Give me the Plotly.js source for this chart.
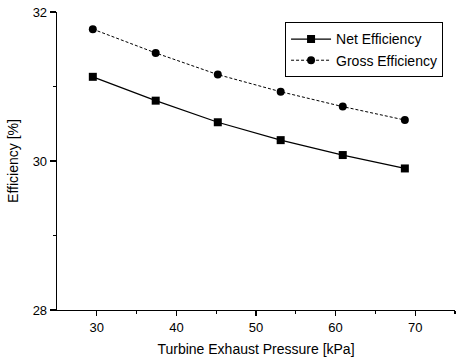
<!DOCTYPE html>
<html><head><meta charset="utf-8">
<script src="https://cdn.plot.ly/plotly-3.0.1.min.js"></script>
<style>html,body{margin:0;padding:0;background:#fff}#chart{width:466px;height:360px}</style>
</head><body><div id="chart"></div>
<script>
const pressure = [29.5, 37.4, 45.2, 53.1, 60.9, 68.7];
const netEff = [31.13, 30.81, 30.52, 30.28, 30.08, 29.90];
const grossEff = [31.77, 31.45, 31.16, 30.93, 30.73, 30.55];
const xTicks = [30, 40, 50, 60, 70];
const yTicks = [28, 30, 32];

const font = {family: 'Liberation Sans, Arial, sans-serif', color: '#000'};
const traces = [
  {x: pressure, y: netEff, name: 'Net Efficiency', type: 'scatter', mode: 'lines+markers',
   line: {color: '#000', width: 1.2}, marker: {symbol: 'square', size: 8, color: '#000'}},
  {x: pressure, y: grossEff, name: 'Gross Efficiency', type: 'scatter', mode: 'lines+markers',
   line: {color: '#000', width: 1, dash: '3px,2px'}, marker: {symbol: 'circle', size: 8, color: '#000'}}
];
const layout = {
  width: 466, height: 360,
  margin: {l: 57, r: 11, t: 12, b: 50},
  paper_bgcolor: '#fff', plot_bgcolor: '#fff',
  font: Object.assign({size: 13}, font),
  showlegend: true,
  legend: {x: 0.573, y: 0.965, xanchor: 'left', yanchor: 'top', bordercolor: '#000', borderwidth: 1,
           bgcolor: '#fff', font: Object.assign({size: 14}, font), tracegroupgap: 0, itemwidth: 40},
  xaxis: {range: [25, 75], tickvals: xTicks, ticks: 'outside', ticklen: 5, tickwidth: 1.2, tickcolor: '#000',
          showline: true, linecolor: '#000', linewidth: 1.3, showgrid: false, zeroline: false,
          minor: {tickvals: [35, 45, 55, 65, 75], ticks: 'outside', ticklen: 3, tickcolor: '#000'},
          tickfont: Object.assign({size: 13}, font),
          title: {text: 'Turbine Exhaust Pressure [kPa]', font: Object.assign({size: 14}, font), standoff: 10}},
  yaxis: {range: [28, 32], tickvals: yTicks, ticks: 'outside', ticklen: 6, tickwidth: 1.2, tickcolor: '#000',
          showline: true, linecolor: '#000', linewidth: 1.3, showgrid: false, zeroline: false,
          minor: {tickvals: [29, 31], ticks: 'outside', ticklen: 3, tickcolor: '#000'},
          tickfont: Object.assign({size: 13}, font),
          title: {text: 'Efficiency [%]', font: Object.assign({size: 14}, font), standoff: 10}}
};
Plotly.newPlot('chart', traces, layout, {displayModeBar: false, staticPlot: true});
</script></body></html>
